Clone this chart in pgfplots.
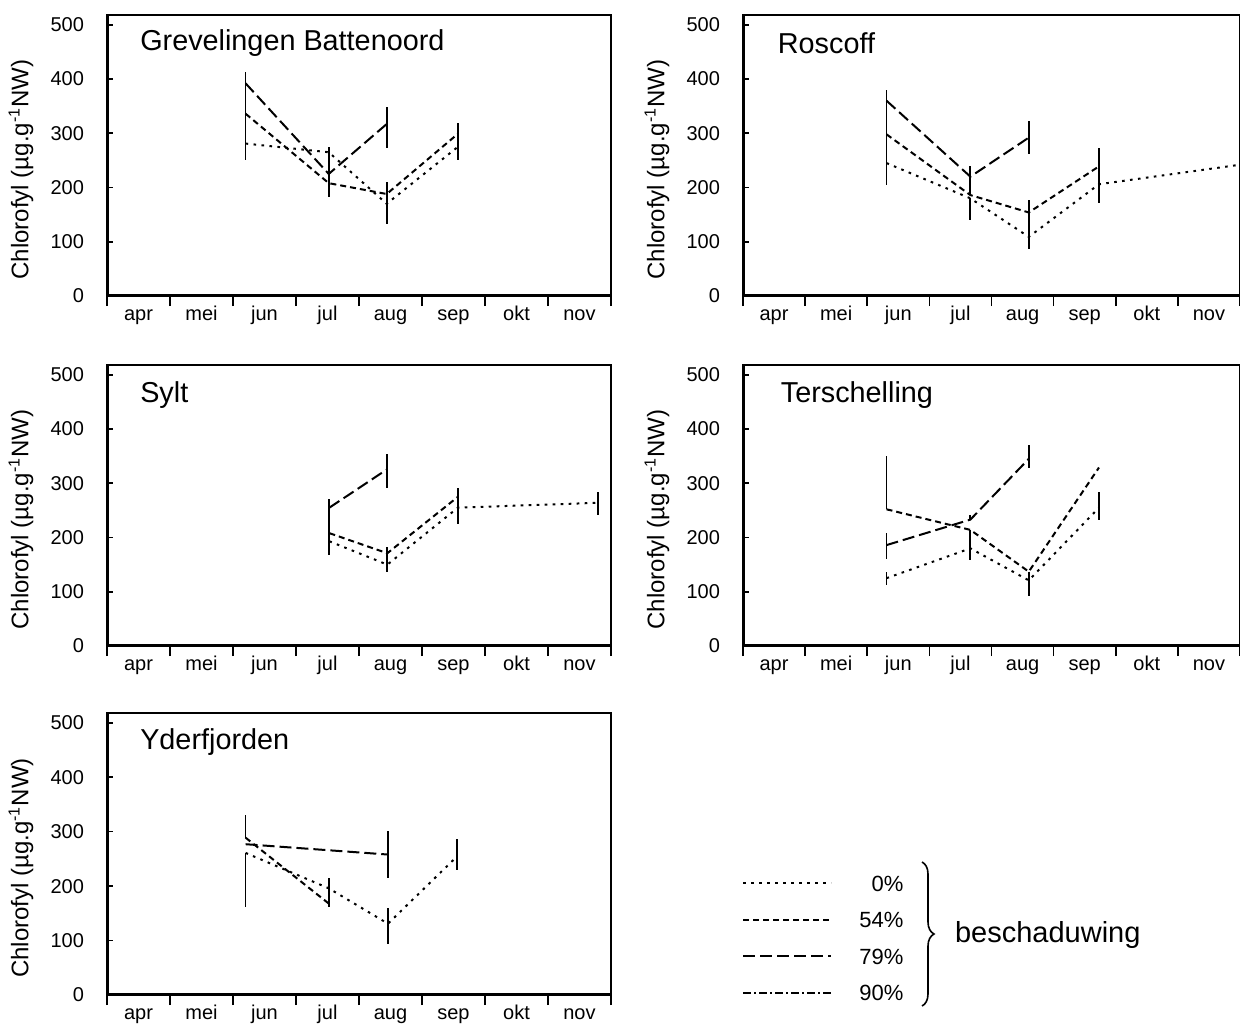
\documentclass[border=0pt]{standalone}
\usepackage{fontspec}
\setmainfont{Liberation Sans}
\usepackage{pgfplots}
\pgfplotsset{compat=1.18}
\usetikzlibrary{decorations.pathreplacing}

\tikzset{ttl/.style={anchor=west, font=\fontsize{14.4}{17}\selectfont}}
\pgfplotsset{
  p0/.style={black, line width=1pt, dash pattern=on 1.3pt off 2.7pt, mark=none},
  p54/.style={black, line width=1pt, dash pattern=on 3pt off 2pt, mark=none},
  p79/.style={black, line width=1pt, dash pattern=on 6pt off 2.5pt, mark=none},
  p90/.style={black, line width=0.8pt, dash pattern=on 4pt off 1.5pt on 1pt off 1.5pt, mark=none},
  eb/.style={error bars/y dir=both, error bars/y explicit, error bars/error mark=none,
    error bars/error bar style={solid, line width=0.9pt, black}},
  panel/.style={
    scale only axis, anchor=south west,
    xmin=0, xmax=8, ymin=0, ymax=518,
    axis line style={line width=0.9pt},
    xtick={0.5,1.5,...,7.5}, xticklabels={apr,mei,jun,jul,aug,sep,okt,nov},
    major x tick style={draw=none},
    minor xtick={0,1,...,8}, minor x tick style={line width=0.8pt, black},
    minor tick length=5pt, xtick align=outside, xtick pos=left,
    ytick={0,100,...,500}, ytick align=inside, ytick pos=left, major tick length=3pt,
    y tick style={line width=0.8pt, black},
    tick label style={font=\fontsize{10}{12}\selectfont},
    /pgf/number format/assume math mode=true,
    yticklabel style={xshift=-8pt},
    xticklabel style={text height=7.5pt, text depth=2.5pt, inner sep=0pt, yshift=-1.5pt},
    ylabel={Chlorofyl (µg.g\textsuperscript{-1}NW)},
    every axis y label/.style={at={([xshift=-43pt]axis description cs:0,0.45)}, rotate=90, anchor=center, font=\fontsize{12}{14}\selectfont},
  },
}

\begin{document}
\begin{tikzpicture}
\useasboundingbox (0,0) rectangle (620pt,512pt);

% Grevelingen Battenoord
\begin{axis}[panel, at={(53.5pt,364pt)}, width=252pt, height=140.5pt]
\addplot[p0, eb] coordinates {(2.2,281) += (0,0) -= (0,31) (3.52,265) += (0,10) -= (0,0) (4.44,170) += (0,18) -= (0,37) (5.57,275) +- (0,0)};
\addplot[p54, eb] coordinates {(2.2,336) += (0,0) -= (0,55) (3.52,208) += (0,17) -= (0,26) (4.44,188) += (0,22) -= (0,0) (5.57,299) += (0,20) -= (0,48)};
\addplot[p79, eb] coordinates {(2.2,392) += (0,21) -= (0,56) (3.52,225) += (0,50) -= (0,0) (4.44,317) += (0,32) -= (0,45)};
\draw[line width=1.6pt] (rel axis cs:0,1) -- (rel axis cs:0,0) -- (rel axis cs:1,0);
\node[ttl] at (rel axis cs:0.052,0.90) {Grevelingen Battenoord};
\end{axis}

% Roscoff
\begin{axis}[panel, at={(371.5pt,364pt)}, width=248.5pt, height=140.5pt]
\addplot[p0, eb] coordinates {(2.31,245) += (0,0) -= (0,40) (3.66,180) += (0,0) -= (0,40) (4.6,109) += (0,45) -= (0,22) (5.73,206) += (0,0) -= (0,35) (8.0,242) +- (0,0)};
\addplot[p54, eb] coordinates {(2.31,298) += (0,0) -= (0,53) (3.66,186) +- (0,0) (4.6,154) += (0,23) -= (0,0) (5.73,239) += (0,34) -= (0,33)};
\addplot[p79, eb] coordinates {(2.31,360) += (0,19) -= (0,62) (3.66,220) += (0,19) -= (0,34) (4.6,292) +- (0,31)};
\draw[line width=1.6pt] (rel axis cs:0,1) -- (rel axis cs:0,0) -- (rel axis cs:1,0);
\node[ttl] at (rel axis cs:0.056,0.90) {Roscoff};
\end{axis}

% Sylt
\begin{axis}[panel, at={(53.5pt,189pt)}, width=252pt, height=140.5pt]
\addplot[p0, eb] coordinates {(3.53,193) += (0,0) -= (0,25) (4.45,150) += (0,0) -= (0,13) (5.57,255) += (0,0) -= (0,31) (7.8,264) += (0,20) -= (0,22)};
\addplot[p54, eb] coordinates {(3.53,208) += (0,0) -= (0,15) (4.45,171) += (0,12) -= (0,21) (5.57,275) += (0,17) -= (0,20)};
\addplot[p79, eb] coordinates {(3.53,255) += (0,16) -= (0,47) (4.45,326) += (0,28) -= (0,34)};
\draw[line width=1.6pt] (rel axis cs:0,1) -- (rel axis cs:0,0) -- (rel axis cs:1,0);
\node[ttl] at (rel axis cs:0.052,0.893) {Sylt};
\end{axis}

% Terschelling
\begin{axis}[panel, at={(371.5pt,189pt)}, width=248.5pt, height=140.5pt]
\addplot[p0, eb] coordinates {(2.31,125) += (0,12) -= (0,13) (3.66,180) +- (0,0) (4.6,121) +- (0,0) (5.73,255) += (0,28) -= (0,22)};
\addplot[p54, eb] coordinates {(2.31,252) += (0,99) -= (0,0) (3.66,214) += (0,0) -= (0,56) (4.6,137) += (0,0) -= (0,44) (5.73,329) +- (0,0)};
\addplot[p79, eb] coordinates {(2.31,186) += (0,22) -= (0,25) (3.66,233) += (0,9) -= (0,0) (4.6,345) += (0,25) -= (0,16)};
\draw[line width=1.6pt] (rel axis cs:0,1) -- (rel axis cs:0,0) -- (rel axis cs:1,0);
\node[ttl] at (rel axis cs:0.062,0.893) {Terschelling};
\end{axis}

% Yderfjorden
\begin{axis}[panel, at={(53.5pt,14.5pt)}, width=252pt, height=141pt]
\addplot[p0, eb] coordinates {(2.2,261) += (0,0) -= (0,99) (3.52,196) += (0,19) -= (0,34) (4.46,131) += (0,28) -= (0,37) (5.56,255) += (0,31) -= (0,25)};
\addplot[p54, eb] coordinates {(2.2,289) += (0,41) -= (0,0) (3.52,168) +- (0,0)};
\addplot[p79, eb] coordinates {(2.2,277) +- (0,0) (4.46,258) += (0,44) -= (0,43)};
\draw[line width=1.6pt] (rel axis cs:0,1) -- (rel axis cs:0,0) -- (rel axis cs:1,0);
\node[ttl] at (rel axis cs:0.052,0.897) {Yderfjorden};
\end{axis}

% legend
\begin{axis}[at={(371pt,9.5pt)}, anchor=south west, scale only axis, width=60pt, height=65pt,
  hide axis, xmin=0, xmax=1, ymin=0, ymax=1,
  legend style={at={(0,1)}, anchor=north west, draw=none, fill=none, inner sep=0pt,
    row sep=10.25pt, font=\fontsize{11}{13}\selectfont,
    nodes={inner sep=0pt, text height=8pt, text depth=0pt}},
  legend cell align=right,
  legend image code/.code={\path[draw=none, fill=none] (0pt,-4pt) (58pt,4pt); \draw[#1] (0pt,0pt) -- (44pt,0pt);}]
\addlegendimage{p0}\addlegendentry{0\%}
\addlegendimage{p54}\addlegendentry{54\%}
\addlegendimage{p79}\addlegendentry{79\%}
\addlegendimage{p90}\addlegendentry{90\%}
\end{axis}
\draw[line width=0.8pt, decorate, decoration={brace, amplitude=6pt}] (461pt,81pt) -- (461pt,9pt);
\node[anchor=west, font=\fontsize{14.5}{17}\selectfont] at (474pt,44.5pt) {beschaduwing};
\end{tikzpicture}
\end{document}
